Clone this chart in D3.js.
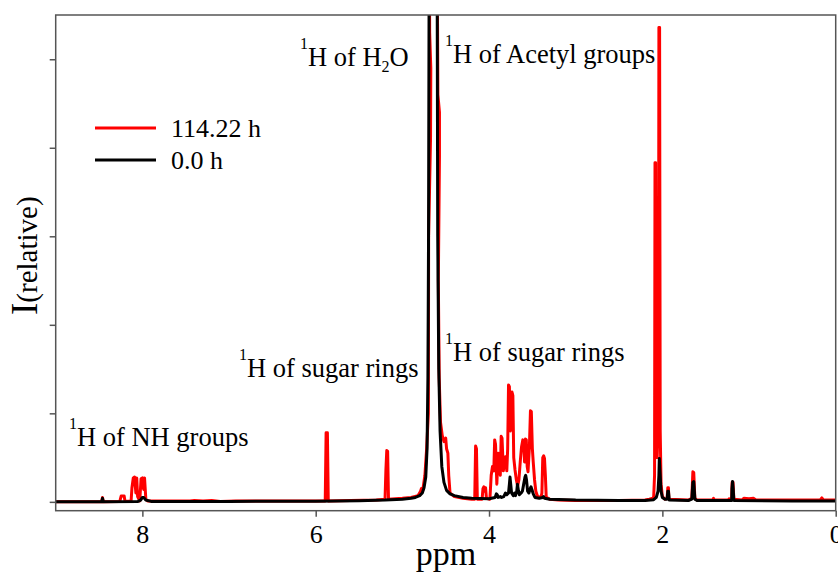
<!DOCTYPE html>
<html>
<head>
<meta charset="utf-8">
<script src="https://cdn.jsdelivr.net/npm/d3@7"></script>
<style>
  html, body { margin: 0; padding: 0; background: #fff; }
  svg { display: block; }
  text { font-family: "Liberation Serif", "Times New Roman", serif; fill: #000; }
</style>
</head>
<body>
<svg id="chart" width="838" height="579"></svg>
<script>
// ¹H NMR spectra: chemical shift (ppm) vs relative intensity
const seriesNames = ["114.22 h", "0.0 h"];
const seriesColors = ["#ff0000", "#000000"];

// 114.22 h spectrum
const redPpm = [
  9.0, 8.50, 8.47, 8.46, 8.45, 8.26, 8.245, 8.21, 8.20, 8.13, 8.12, 8.105, 8.09, 8.075, 8.065, 8.055,
  8.03, 8.015, 8.00, 7.985, 7.975, 7.96, 7.94, 7.45, 7.40, 7.30, 7.20, 7.10, 6.92, 6.0,
  5.89, 5.88, 5.865, 5.855, 5.6, 5.3, 5.20, 5.19, 5.18, 5.17, 5.16, 5.0, 4.9, 4.82, 4.79, 4.78, 4.765,
  4.74, 4.72, 4.70, 4.697, 4.675, 4.672, 4.685, 4.69, 4.645, 4.60, 4.59, 4.572, 4.572, 4.585, 4.575, 4.56,
  4.54, 4.52, 4.51, 4.50,
  4.49, 4.475, 4.465, 4.45, 4.40, 4.30, 4.20, 4.165, 4.155, 4.145, 4.135, 4.08, 4.07, 4.06, 4.05, 4.04, 4.03,
  3.99, 3.975, 3.96, 3.945, 3.935, 3.925, 3.91, 3.895, 3.885, 3.87, 3.86, 3.85, 3.835, 3.82, 3.81, 3.795,
  3.785, 3.775, 3.765, 3.755, 3.745, 3.735, 3.725, 3.715, 3.70, 3.685, 3.67, 3.655, 3.64, 3.625, 3.61, 3.60,
  3.59, 3.58, 3.57, 3.56, 3.55, 3.535, 3.522, 3.512, 3.50, 3.49, 3.475, 3.46, 3.44, 3.40, 3.39, 3.38, 3.37,
  3.36, 3.35, 3.34, 3.30, 3.2, 3.0, 2.5, 2.2, 2.15, 2.11, 2.10, 2.09, 2.085, 2.078, 2.07, 2.06, 2.045, 2.04,
  2.032, 2.025, 2.015, 2.0, 1.97, 1.945, 1.937, 1.93, 1.925, 1.7, 1.66, 1.648, 1.638, 1.625, 1.6, 1.42, 1.41,
  1.40, 1.24, 1.23, 1.22, 1.20, 1.195, 1.185, 1.175, 1.08, 1.06, 1.0, 0.95, 0.92, 0.18, 0.16, 0.14, 0.0
];
const redI = [
  0.0, 0.0, 0.0, 0.05, 0.0, 0.005, 0.065, 0.065, 0.005, 0.01, 0.16, 0.27, 0.28, 0.10, 0.27, 0.06,
  0.01, 0.26, 0.27, 0.14, 0.27, 0.03, 0.01, 0.01, 0.015, 0.01, 0.015, 0.005, 0.01, 0.01,
  0.01, 0.78, 0.78, 0.01, 0.015, 0.02, 0.03, 0.36, 0.58, 0.57, 0.03, 0.04, 0.05, 0.07, 0.12, 0.15, 0.13,
  0.3, 0.6, 1.0, 3.0, 4.1, 4.9, 5.3, 6.5, 40, 6.5, 4.6, 4.4, 3.9, 2.5, 1.4, 0.9,
  0.75, 0.68, 0.70, 0.72,
  0.6, 0.55, 0.3, 0.1, 0.06, 0.04, 0.03, 0.03, 0.63, 0.6, 0.03, 0.03, 0.15, 0.17, 0.12, 0.16, 0.04,
  0.03, 0.3, 0.40, 0.35, 0.70, 0.65, 0.2, 0.55, 0.45, 0.3, 0.74, 0.72, 0.35, 0.45, 0.51, 0.35,
  0.6, 1.32, 1.30, 0.8, 0.9, 1.24, 1.2, 0.5, 0.36, 0.25, 0.18, 0.25, 0.45, 0.62, 0.70, 0.68,
  0.45, 0.71, 0.70, 0.4, 0.34, 0.6, 1.03, 1.02, 0.6, 0.45, 0.25, 0.12, 0.06, 0.05, 0.1, 0.50, 0.52,
  0.49, 0.3, 0.05, 0.03, 0.02, 0.015, 0.015, 0.02, 0.03, 0.04, 0.06, 0.3, 3.83, 3.83, 0.6, 0.5, 1.0, 5.36,
  5.36, 0.8, 0.2, 0.06, 0.03, 0.04, 0.16, 0.16, 0.03, 0.02, 0.04, 0.34, 0.33, 0.04, 0.02, 0.02, 0.04,
  0.02, 0.02, 0.035, 0.02, 0.03, 0.22, 0.22, 0.03, 0.02, 0.04, 0.035, 0.04, 0.02, 0.02, 0.045, 0.02, 0.02
];

// 0.0 h spectrum
const blackPpm = [
  9.0, 8.47, 8.46, 8.45, 8.05, 8.02, 8.00, 7.985, 7.96, 7.9, 7.0, 6.0, 5.5, 5.2, 5.0, 4.9, 4.85, 4.80,
  4.77, 4.75, 4.73, 4.715, 4.705, 4.698, 4.69, 4.65, 4.60, 4.592, 4.58, 4.565, 4.545, 4.52, 4.49, 4.45,
  4.40, 4.30, 4.2, 4.0, 3.93, 3.915, 3.905, 3.895, 3.87, 3.855, 3.83, 3.81, 3.795, 3.775, 3.765, 3.758,
  3.75, 3.74, 3.72, 3.705, 3.695, 3.68, 3.672, 3.66, 3.65, 3.63, 3.615, 3.60, 3.585, 3.577, 3.568, 3.555,
  3.54, 3.525, 3.516, 3.505, 3.49, 3.47, 3.42, 3.38, 3.37, 3.36, 3.3, 3.0, 2.5, 2.2, 2.1, 2.07, 2.05,
  2.04, 2.035, 2.028, 2.015, 2.0, 1.97, 1.945, 1.937, 1.93, 1.92, 1.7, 1.66, 1.648, 1.638, 1.625, 1.6,
  1.2, 1.197, 1.19, 1.183, 1.175, 0.5, 0.0
];
const blackI = [
  0.0, 0.0, 0.04, 0.0, 0.005, 0.02, 0.05, 0.05, 0.02, 0.005, 0.005, 0.008, 0.012, 0.02, 0.03, 0.04, 0.05, 0.07,
  0.1, 0.16, 0.28, 0.6, 1.4, 3.0, 6.5, 40, 6.5, 3.0, 1.5, 0.8, 0.4, 0.22, 0.13, 0.09,
  0.07, 0.05, 0.04, 0.035, 0.05, 0.09, 0.08, 0.05, 0.06, 0.05, 0.06, 0.1, 0.08, 0.1, 0.2, 0.28,
  0.2, 0.1, 0.07, 0.1, 0.07, 0.12, 0.2, 0.12, 0.08, 0.1, 0.12, 0.2, 0.28, 0.30, 0.25, 0.12,
  0.1, 0.15, 0.17, 0.14, 0.09, 0.05, 0.04, 0.05, 0.06, 0.04, 0.03, 0.02, 0.015, 0.015, 0.025, 0.05, 0.12,
  0.3, 0.49, 0.35, 0.12, 0.05, 0.03, 0.03, 0.12, 0.12, 0.02, 0.015, 0.03, 0.22, 0.23, 0.03, 0.015,
  0.015, 0.15, 0.23, 0.15, 0.015, 0.01, 0.01
];

const xTicks = [8, 6, 4, 2, 0];
const yTicks = [0, 1, 2, 3, 4, 5];

const annotations = [
  { parts: [["1", "sup"], ["H of H", ""], ["2", "sub"], ["O", ""]], x: 300, y: 66 },
  { parts: [["1", "sup"], ["H of Acetyl groups", ""]], x: 445, y: 63 },
  { parts: [["1", "sup"], ["H of sugar rings", ""]], x: 239, y: 377 },
  { parts: [["1", "sup"], ["H of sugar rings", ""]], x: 445, y: 361 },
  { parts: [["1", "sup"], ["H of NH groups", ""]], x: 69, y: 446 }
];

const svg = d3.select("#chart");
const plot = { left: 55.7, right: 835.7, top: 15, bottom: 510.7 };

const x = d3.scaleLinear().domain([9, 0]).range([plot.left, plot.right]);
const y = d3.scaleLinear().domain([-0.1, 5.5]).range([plot.bottom, plot.top]);

svg.append("defs").append("clipPath").attr("id", "plotClip")
  .append("rect")
  .attr("x", plot.left).attr("y", plot.top)
  .attr("width", plot.right - plot.left).attr("height", plot.bottom - plot.top);

const line = d3.line().x(d => x(d[0])).y(d => y(d[1]));

const spectra = [
  d3.zip(redPpm, redI),
  d3.zip(blackPpm, blackI)
];

const lines = svg.append("g").attr("clip-path", "url(#plotClip)");
spectra.forEach((pts, i) => {
  lines.append("path")
    .datum(pts)
    .attr("d", line)
    .attr("fill", "none")
    .attr("stroke", seriesColors[i])
    .attr("stroke-width", 3)
    .attr("stroke-linejoin", "round")
    .attr("stroke-linecap", "round");
});

// frame
const axisColor = "#555";
svg.append("rect")
  .attr("x", plot.left).attr("y", plot.top)
  .attr("width", plot.right - plot.left).attr("height", plot.bottom - plot.top)
  .attr("fill", "none").attr("stroke", axisColor).attr("stroke-width", 1.5);

const xAxis = svg.append("g")
  .attr("transform", `translate(0,${plot.bottom})`)
  .call(d3.axisBottom(x).tickValues(xTicks).tickFormat(d3.format("d")).tickSize(6).tickSizeOuter(0));
xAxis.select(".domain").remove();
xAxis.selectAll(".tick line").attr("stroke", axisColor).attr("stroke-width", 1.5);
xAxis.selectAll(".tick text")
  .attr("y", 32).attr("dy", null)
  .style("font-family", '"Liberation Serif", serif')
  .style("font-size", "26px").attr("fill", "#000");

const yAxis = svg.append("g")
  .attr("transform", `translate(${plot.left},0)`)
  .call(d3.axisLeft(y).tickValues(yTicks).tickFormat("").tickSize(6).tickSizeOuter(0));
yAxis.select(".domain").remove();
yAxis.selectAll(".tick line").attr("stroke", axisColor).attr("stroke-width", 1.5);

// axis titles
svg.append("text")
  .attr("x", 446).attr("y", 565)
  .attr("text-anchor", "middle")
  .style("font-size", "34px")
  .text("ppm");

const yTitle = svg.append("text")
  .attr("transform", "translate(37,315) rotate(-90)")
  .attr("text-anchor", "start");
yTitle.append("tspan").style("font-size", "37px").text("I");
yTitle.append("tspan").style("font-size", "29px").text("(relative)");

// legend
const legend = svg.append("g");
seriesNames.forEach((name, i) => {
  const ly = 128 + i * 32;
  legend.append("line")
    .attr("x1", 95).attr("x2", 156).attr("y1", ly).attr("y2", ly)
    .attr("stroke", seriesColors[i]).attr("stroke-width", 3);
  legend.append("text")
    .attr("x", 171).attr("y", ly + 9)
    .style("font-size", "26px")
    .text(name);
});

// peak annotations
annotations.forEach(a => {
  const t = svg.append("text").attr("x", a.x).attr("y", a.y).style("font-size", "26.5px");
  let shift = 0;
  a.parts.forEach(([s, kind]) => {
    let target = 0, size = "26.5px";
    if (kind === "sup") { target = -17; size = "16px"; }
    if (kind === "sub") { target = 6; size = "16px"; }
    t.append("tspan")
      .attr("dy", target - shift)
      .style("font-size", size)
      .text(s);
    shift = target;
  });
});
</script>
</body>
</html>
